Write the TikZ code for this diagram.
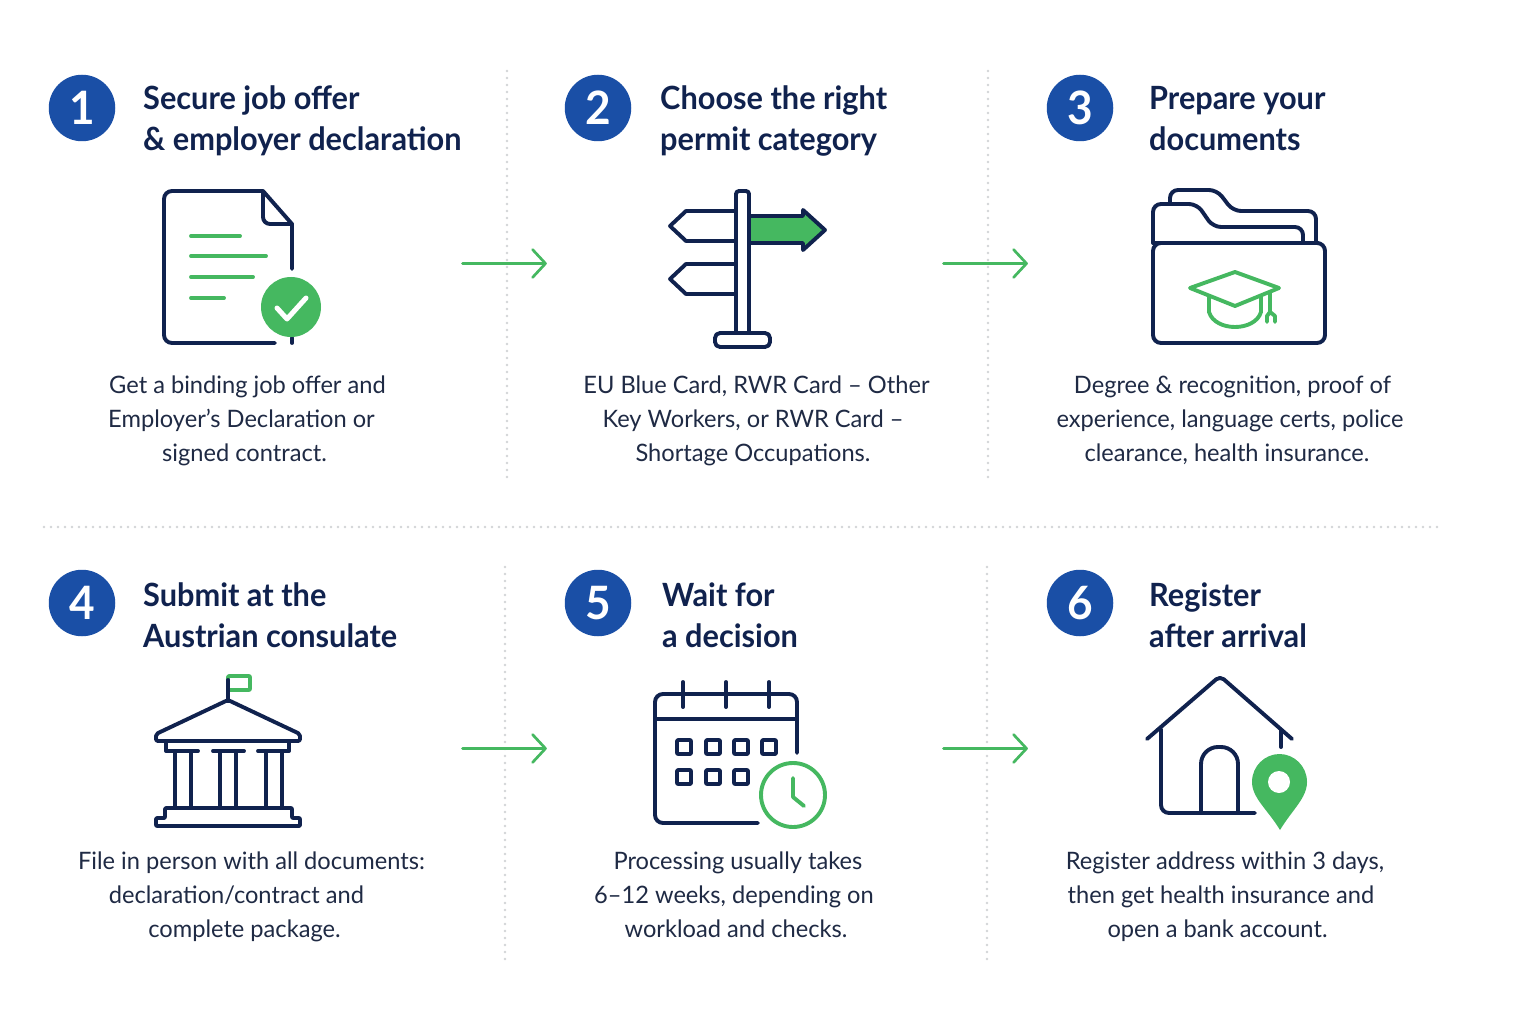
\documentclass[tikz,border=0pt]{standalone}
\usepackage{fontspec}
\setmainfont{Lato}[FakeStretch=0.985,BoldFeatures={FakeStretch=0.96}]
\definecolor{navy}{HTML}{10224E}
\definecolor{leaf}{HTML}{45B860}
\definecolor{badge}{HTML}{1A4FA6}
\definecolor{ink}{HTML}{1F2A44}
\definecolor{dotgrey}{HTML}{D2D4D7}
\newcommand{\bodystrut}{\rule[-9pt]{0pt}{31pt}}
\newcommand{\titlestrut}{\rule[-9pt]{0pt}{36pt}}
\newcommand{\sh}[1]{\hspace*{#1pt}}
\tikzset{
  x=1pt,y=-1pt,
  badgenode/.style={circle,fill=badge,text=white,minimum size=66.5pt,inner sep=0pt,font=\fontsize{46}{46}\selectfont\bfseries},
  titletext/.style={anchor=west,align=left,inner sep=0pt,text=navy,font=\fontsize{32}{41}\selectfont\bfseries,execute at begin node=\titlestrut,execute at end node=\titlestrut},
  bodytext/.style={align=center,inner sep=0pt,text=ink,font=\fontsize{24}{34}\selectfont,execute at begin node=\bodystrut,execute at end node=\bodystrut},
  flowarrow/.style={draw=leaf,line width=2.7pt,line cap=round,line join=round},
  dotline/.style={draw=dotgrey,line width=2.8pt,line cap=round,dash pattern=on 0pt off 7pt},
  iconline/.style={draw=navy,line width=3.9pt,line cap=round,line join=round},
  greenline/.style={draw=leaf,line width=3.9pt,line cap=round,line join=round},
}
\begin{document}
\begin{tikzpicture}
\useasboundingbox[fill=white] (0,0) rectangle (1536,1024);
% dotted rules
\draw[dotline] (507,71) -- (507,479);
\draw[dotline] (988,71) -- (988,479);
\draw[dotline] (505,567) -- (505,963);
\draw[dotline] (987,567) -- (987,963);
\draw[dotline] (44,527) -- (1440,527);
% badges
\node[badgenode] (b1) at (82,108) {1};
\node[badgenode] (b2) at (598,108) {2};
\node[badgenode] (b3) at (1080,108) {3};
\node[badgenode] (b4) at (82,603) {4};
\node[badgenode] (b5) at (598,603) {5};
\node[badgenode] (b6) at (1080,603) {6};
% titles
\node[titletext] (t1) at (143,123) {Secure job offer\\\& employer declaration};
\node[titletext] (t2) at (660,123) {Choose the right\\permit category};
\node[titletext] (t3) at (1149,123) {Prepare your\\documents};
\node[titletext] (t4) at (143,620) {Submit at the\\Austrian consulate};
\node[titletext] (t5) at (662,620) {Wait for\\a decision};
\node[titletext] (t6) at (1149,620) {Register\\after arrival};
% bodies
\node[bodytext] (d1) at (245,423) {\sh{5}Get a binding job offer and\\\sh{-7}Employer’s Declaration or\\\sh{-1}signed contract.};
\node[bodytext] (d2) at (754,423) {\sh{5}EU Blue Card, RWR Card – Other\\\sh{-2}Key Workers, or RWR Card –\\\sh{-2}Shortage Occupations.};
\node[bodytext] (d3) at (1230,423) {\sh{5}Degree \& recognition, proof of\\experience, language certs, police\\\sh{-6}clearance, health insurance.};
\node[bodytext] (d4) at (245,899) {\sh{13}File in person with all documents:\\\sh{-17}declaration/contract and\\\sh{-1}complete package.};
\node[bodytext] (d5) at (735,899) {\sh{6}Processing usually takes\\\sh{-2}6–12 weeks, depending on\\\sh{2}workload and checks.};
\node[bodytext] (d6) at (1221,899) {\sh{8}Register address within 3 days,\\then get health insurance and\\\sh{-7}open a bank account.};
% arrows
\foreach \n/\xa/\ya in {a/462.5/263.5,b/943.5/263.5,c/462.5/748.5,d/943.5/748.5}{
  \coordinate (\n s) at (\xa,\ya);
  \coordinate (\n e) at (\xa+83,\ya);
  \draw[flowarrow] (\n s) -- (\n e);
  \draw[flowarrow] (\xa+70,\ya-14) -- (\n e) -- (\xa+70,\ya+14);
}
% --- icon 1: document
\draw[iconline,rounded corners=8pt] (275,343) -- (164,343) -- (164,191) -- (263,191);
\draw[iconline] (263,191) -- (292,224) -- (292,269);
\draw[iconline,rounded corners=7pt] (263,191) -- (263,224) -- (292,224);
\draw[iconline] (292,338) -- (292,343);
\draw[greenline] (191,236) -- (240,236);
\draw[greenline] (191,256) -- (266,256);
\draw[greenline] (191,277) -- (253,277);
\draw[greenline] (191,298) -- (224,298);
\fill[leaf] (291,307) circle (30);
\draw[draw=white,line width=5pt,line cap=round,line join=round] (277,308) -- (287,319) -- (306,298);
% --- icon 2: signpost
\fill[leaf] (749,216) -- (803,216) -- (803,210) -- (825,230) -- (803,250) -- (803,243) -- (749,243) -- cycle;
\draw[iconline] (749,216) -- (803,216) -- (803,210) -- (825,230) -- (803,250) -- (803,243) -- (749,243);
\draw[iconline] (736,211) -- (686,211) -- (670,226) -- (686,241) -- (736,241);
\draw[iconline] (736,264) -- (686,264) -- (670,279) -- (686,294) -- (736,294);
\draw[iconline,rounded corners=3pt] (736,333) -- (736,191) -- (749,191) -- (749,333);
\draw[iconline,rounded corners=5pt] (715,347) -- (715,333) -- (770,333) -- (770,347) -- cycle;
% --- icon 3: folder
\draw[iconline,rounded corners=8pt] (1170,204) -- (1170,190) -- (1217,190) -- (1233,211) -- (1316,211) -- (1316,243);
\draw[iconline,rounded corners=8pt] (1153,243) -- (1153,204) -- (1197,204) -- (1213,227) -- (1303,227) -- (1303,243);
\draw[iconline,rounded corners=8pt] (1153,243) -- (1153,343) -- (1325,343) -- (1325,243) -- cycle;
\draw[iconline] (1153,243) -- (1318,243);
\draw[greenline] (1190,288) -- (1235,272) -- (1279,288) -- (1235,306) -- cycle;
\draw[greenline] (1209,296) -- (1209,312) .. controls (1215,332) and (1255,332) .. (1261,312) -- (1261,296);
\draw[greenline] (1270,293) -- (1270,312);
\draw[greenline] (1267,322) -- (1267,316) -- (1270,312) -- (1275,316) -- (1275,322);
% --- icon 4: bank
\draw[greenline,rounded corners=1pt] (228,676) rectangle (250,690);
\draw[iconline] (228,680) -- (228,699);
\draw[iconline,rounded corners=2pt] (228,700) -- (300,734) -- (300,741) -- (156,741) -- (156,734) -- cycle;
\draw[iconline] (166,741) -- (166,751) -- (198,751);
\draw[iconline] (289,741) -- (289,751) -- (258,751);
\draw[iconline] (213,751) -- (244,751);
\foreach \c in {175,191,220,236,266,282}{\draw[iconline] (\c,751) -- (\c,808);}
\draw[iconline,rounded corners=1pt] (165,808) -- (165,818) -- (156,818) -- (156,826) -- (300,826) -- (300,818) -- (292,818) -- (292,808) -- cycle;
% --- icon 5: calendar
\draw[iconline,rounded corners=8pt] (758,823) -- (655,823) -- (655,694) -- (797,694) -- (797,753);
\draw[iconline] (655,719) -- (797,719);
\foreach \c in {683,726,769}{\draw[iconline] (\c,682) -- (\c,707);}
\foreach \c/\r in {684/747,713/747,741/747,769/747,684/777,713/777,741/777}{
  \draw[iconline,rounded corners=1pt] (\c-7,\r-7) rectangle (\c+7,\r+7);
}
\draw[greenline] (793,795) circle (32);
\draw[greenline] (793,778) -- (793,797) -- (804,806);
% --- icon 6: house
\draw[iconline,rounded corners=5pt] (1147,739) -- (1220,676) -- (1292,739);
\draw[iconline,rounded corners=8pt] (1161,729) -- (1161,813) -- (1255,813);
\draw[iconline] (1281,730) -- (1281,747);
\draw[iconline,rounded corners=17pt] (1201,813) -- (1201,747) -- (1238,747) -- (1238,813);
\fill[leaf] (1280,830) .. controls (1268,810) and (1252,798) .. (1252,782) .. controls (1252,766) and (1265,754) .. (1279.5,754) .. controls (1294,754) and (1307,766) .. (1307,782) .. controls (1307,798) and (1292,810) .. (1280,830) -- cycle;
\fill[white] (1279,782) circle (11);
\end{tikzpicture}
\end{document}
